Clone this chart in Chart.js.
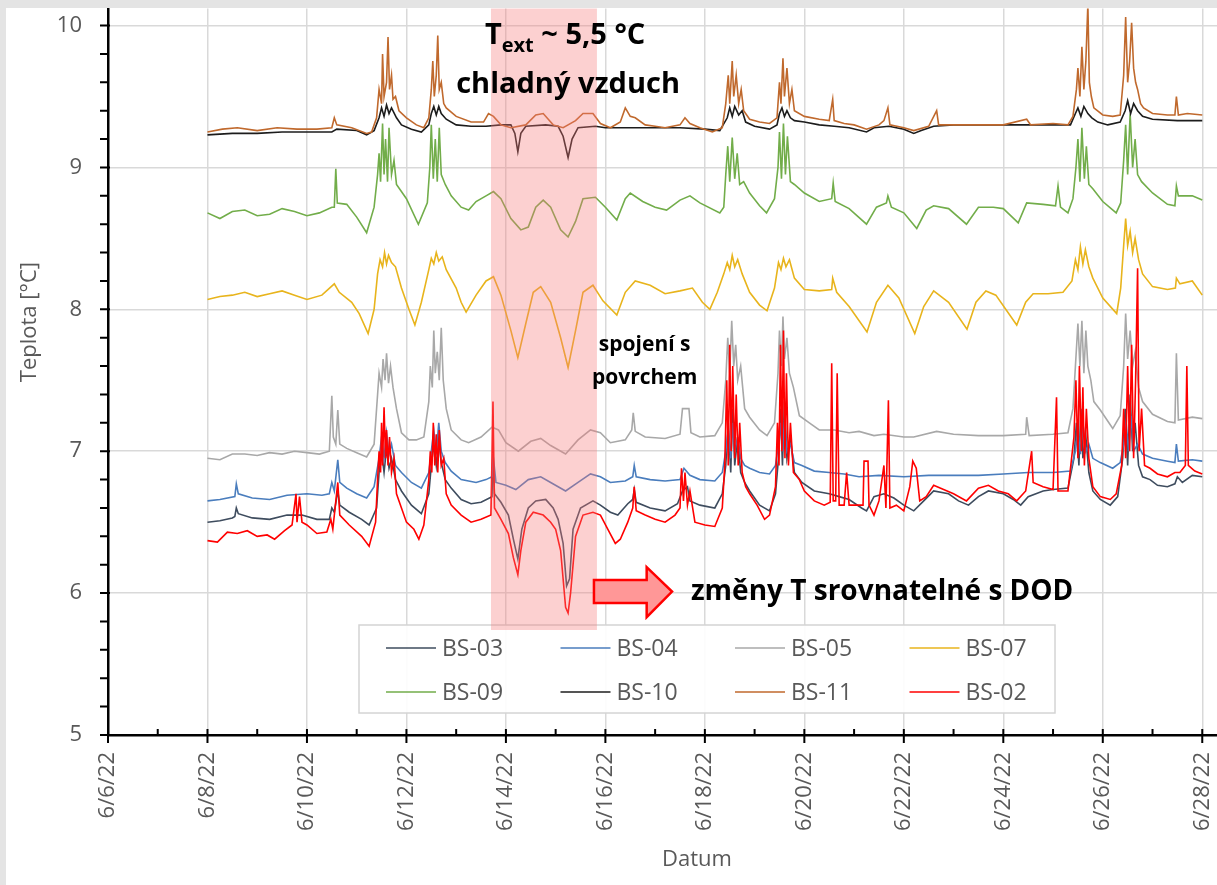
<!DOCTYPE html>
<html>
<head>
<meta charset="utf-8">
<script src="https://cdn.jsdelivr.net/npm/chart.js@4.4.1/dist/chart.umd.min.js"></script>
<style>
  html, body { margin: 0; padding: 0; }
  body { width: 1217px; height: 885px; overflow: hidden; background: #e4e4e4; position: relative; }
  #wrap { position: absolute; left: 6px; top: 8px; width: 1246px; height: 877px; background: #fff; }
</style>
</head>
<body>
<div id="wrap"><canvas id="chart"></canvas></div>
<script>
// osa x = den v červnu 2022, osa y = teplota [°C]
const xTickDays = [6, 8, 10, 12, 14, 16, 18, 20, 22, 24, 26, 28];
const yTickValues = [5, 6, 7, 8, 9, 10];
const seriesNames = ['BS-03', 'BS-04', 'BS-05', 'BS-07', 'BS-09', 'BS-10', 'BS-11', 'BS-02'];

const bs03 = [[8.0,6.50],[8.25,6.51],[8.5,6.53],[8.55,6.54],[8.58,6.60],[8.62,6.56],[8.9,6.53],[9.25,6.52],[9.6,6.55],[9.9,6.55],[10.2,6.52],[10.45,6.52],[10.5,6.60],[10.55,6.57],[10.62,6.72],[10.66,6.62],[10.85,6.57],[11.1,6.52],[11.25,6.48],[11.4,6.6],
  [11.45,6.85],[11.5,7.0],[11.55,6.85],[11.6,7.02],[11.65,6.88],[11.7,6.95],[11.78,6.8],
  [11.9,6.72],[12.1,6.62],[12.3,6.56],[12.45,6.7],
  [12.5,6.9],[12.55,7.05],[12.6,6.9],[12.65,7.08],[12.7,6.92],[12.78,6.8],
  [12.9,6.74],[13.1,6.66],[13.3,6.63],[13.5,6.64],[13.72,6.68],[13.74,6.95],[13.77,6.7],[13.9,6.64],[14.05,6.55],[14.15,6.38],[14.24,6.24],[14.32,6.45],[14.45,6.6],[14.6,6.65],[14.8,6.66],[14.95,6.6],[15.05,6.52],[15.15,6.35],[15.22,6.05],[15.28,6.1],[15.35,6.45],[15.5,6.6],[15.75,6.65],[15.9,6.62],[16.1,6.57],[16.25,6.55],[16.45,6.63],[16.55,6.66],[16.58,6.73],[16.62,6.64],[16.9,6.6],[17.2,6.58],[17.45,6.63],[17.55,6.72],[17.65,6.75],[17.7,6.65],[17.9,6.62],[18.2,6.60],[18.35,6.7],
  [18.42,6.9],[18.47,7.2],[18.52,6.85],[18.56,7.3],[18.6,6.9],[18.66,7.1],[18.72,6.85],[18.8,6.78],
  [18.9,6.72],[19.1,6.62],[19.3,6.58],[19.42,6.7],
  [19.48,6.95],[19.52,7.3],[19.56,6.9],[19.6,7.35],[19.65,6.95],[19.72,7.1],[19.8,6.85],
  [19.95,6.78],[20.2,6.72],[20.5,6.70],[20.7,6.68],[20.9,6.66],[21.15,6.60],[21.25,6.58],[21.4,6.68],[21.6,6.70],[21.8,6.67],[22.0,6.62],[22.2,6.58],[22.4,6.65],[22.6,6.72],[22.9,6.70],[23.1,6.65],[23.3,6.62],[23.5,6.68],[23.7,6.72],[24.0,6.70],[24.2,6.66],[24.35,6.62],[24.5,6.68],[24.8,6.72],[25.0,6.73],[25.3,6.74],
  [25.42,6.95],[25.47,7.2],[25.52,6.9],[25.56,7.3],[25.6,6.95],[25.66,7.1],[25.72,6.85],[25.8,6.72],
  [25.95,6.66],[26.15,6.62],[26.3,6.68],
  [26.4,6.95],[26.45,7.3],[26.5,6.9],[26.55,7.4],[26.6,7.0],[26.65,7.2],[26.72,6.9],[26.8,6.82],
  [26.95,6.80],[27.1,6.76],[27.3,6.75],[27.45,6.77],[27.5,6.82],[27.6,6.78],[27.8,6.83],[28.0,6.82]];

const bs04 = [[8.0,6.65],[8.25,6.66],[8.55,6.68],[8.58,6.77],[8.62,6.70],[8.9,6.67],[9.25,6.66],[9.6,6.69],[10.0,6.70],[10.3,6.69],[10.45,6.70],[10.5,6.78],[10.55,6.72],[10.62,6.94],[10.66,6.78],[10.8,6.74],[11.0,6.70],[11.2,6.67],[11.35,6.75],
  [11.45,6.95],[11.5,7.1],[11.55,6.95],[11.6,7.13],[11.65,6.98],[11.7,7.05],[11.78,6.9],
  [11.9,6.85],[12.1,6.78],[12.3,6.74],[12.45,6.85],
  [12.5,7.0],[12.55,7.15],[12.6,6.98],[12.65,7.2],[12.7,7.0],[12.78,6.92],
  [12.9,6.86],[13.1,6.80],[13.4,6.78],[13.6,6.80],[13.72,6.82],[13.74,6.98],[13.8,6.78],[14.0,6.76],[14.2,6.73],[14.45,6.80],[14.7,6.82],[14.9,6.78],[15.2,6.72],[15.45,6.78],[15.7,6.84],[15.9,6.82],[16.1,6.78],[16.4,6.79],[16.55,6.82],[16.58,6.90],[16.62,6.82],[16.9,6.80],[17.2,6.79],[17.5,6.80],[17.58,6.88],[17.7,6.83],[17.9,6.80],[18.2,6.79],[18.35,6.85],
  [18.42,7.0],[18.47,7.15],[18.52,6.95],[18.56,7.2],[18.6,7.0],[18.66,7.1],[18.72,6.95],[18.8,6.9],
  [18.9,6.88],[19.1,6.85],[19.3,6.84],[19.42,6.9],
  [19.48,7.05],[19.52,7.2],[19.56,7.0],[19.6,7.22],[19.65,7.0],[19.72,7.05],[19.8,6.92],
  [19.95,6.90],[20.2,6.86],[20.5,6.85],[20.8,6.84],[21.1,6.82],[21.5,6.83],[22.0,6.82],[22.5,6.83],[23.0,6.83],[23.5,6.83],[24.0,6.84],[24.5,6.85],[25.0,6.85],[25.35,6.86],
  [25.45,7.0],[25.5,7.15],[25.55,6.98],[25.6,7.2],[25.66,7.0],[25.72,7.05],[25.8,6.95],
  [25.95,6.92],[26.2,6.88],[26.35,6.92],
  [26.42,7.05],[26.47,7.2],[26.52,7.0],[26.57,7.25],[26.62,7.0],[26.7,7.05],[26.8,6.98],
  [27.0,6.95],[27.3,6.93],[27.45,6.92],[27.48,7.05],[27.52,6.93],[27.8,6.94],[28.0,6.93]];

const bs05 = [[8.0,6.95],[8.25,6.94],[8.5,6.98],[8.75,6.98],[9.0,6.97],[9.25,6.99],[9.5,6.98],[9.75,7.00],[10.0,6.99],[10.25,6.98],[10.45,7.0],[10.5,7.39],[10.53,7.1],[10.58,7.05],[10.62,7.29],[10.66,7.05],[10.8,7.02],[11.0,6.99],[11.2,6.96],[11.35,7.05],[11.42,7.4],
  [11.45,7.55],[11.5,7.45],[11.53,7.65],[11.57,7.5],[11.6,7.69],[11.64,7.48],[11.68,7.6],[11.73,7.45],[11.8,7.3],
  [11.9,7.13],[12.05,7.08],[12.2,7.08],[12.35,7.1],[12.45,7.35],
  [12.48,7.6],[12.52,7.45],[12.55,7.85],[12.58,7.55],[12.62,7.7],[12.66,7.5],[12.7,7.87],[12.74,7.5],[12.8,7.3],
  [12.9,7.15],[13.1,7.08],[13.25,7.06],[13.5,7.10],[13.72,7.17],[13.85,7.15],[14.0,7.06],[14.25,7.0],[14.5,7.07],[14.7,7.09],[14.9,7.04],[15.2,6.98],[15.45,7.08],[15.7,7.15],[15.9,7.13],[16.1,7.06],[16.4,7.08],[16.53,7.15],[16.56,7.27],[16.6,7.14],[16.8,7.10],[17.2,7.09],[17.5,7.12],[17.55,7.30],[17.68,7.30],[17.72,7.13],[17.9,7.10],[18.2,7.11],[18.35,7.2],
  [18.42,7.5],[18.46,7.8],[18.5,7.55],[18.54,7.92],[18.58,7.6],[18.62,7.75],[18.66,7.5],[18.72,7.6],[18.8,7.3],
  [18.9,7.24],[19.1,7.15],[19.25,7.11],[19.4,7.2],
  [19.47,7.55],[19.5,7.85],[19.54,7.6],[19.57,7.95],[19.6,7.65],[19.65,7.8],[19.7,7.55],[19.78,7.45],
  [19.9,7.25],[20.1,7.2],[20.3,7.15],[20.6,7.15],[20.9,7.13],[21.1,7.14],[21.4,7.11],[21.6,7.12],[22.0,7.10],[22.2,7.10],[22.66,7.14],[23.0,7.12],[23.5,7.11],[24.0,7.11],[24.45,7.12],[24.47,7.24],[24.52,7.11],[25.0,7.12],[25.3,7.13],[25.4,7.3],
  [25.45,7.6],[25.5,7.9],[25.54,7.6],[25.58,7.92],[25.62,7.55],[25.66,7.85],[25.7,7.6],[25.76,7.5],[25.82,7.35],
  [25.95,7.29],[26.2,7.16],[26.35,7.25],
  [26.42,7.6],[26.46,7.97],[26.5,7.65],[26.55,7.85],[26.6,7.6],[26.65,7.7],[26.72,7.45],[26.8,7.35],
  [27.0,7.26],[27.3,7.21],[27.45,7.20],[27.48,7.69],[27.52,7.22],[27.8,7.24],[28.0,7.23]];

const bs07 = [[8.0,8.07],[8.25,8.09],[8.5,8.10],[8.75,8.12],[9.0,8.09],[9.25,8.11],[9.5,8.13],[9.75,8.10],[10.0,8.07],[10.3,8.10],[10.55,8.18],[10.65,8.12],[10.9,8.05],[11.05,7.97],[11.23,7.83],[11.35,8.0],[11.42,8.25],
  [11.47,8.35],[11.52,8.30],[11.56,8.40],[11.6,8.32],[11.64,8.38],[11.7,8.33],[11.78,8.3],
  [11.9,8.15],[12.05,8.0],[12.17,7.89],[12.3,8.05],[12.45,8.28],
  [12.5,8.36],[12.55,8.32],[12.6,8.40],[12.65,8.34],[12.72,8.37],[12.8,8.28],
  [13.0,8.15],[13.1,8.05],[13.2,7.98],[13.4,8.10],[13.6,8.20],[13.75,8.23],[13.9,8.10],[14.1,7.85],[14.24,7.66],[14.4,7.9],[14.55,8.12],[14.7,8.16],[14.9,8.05],[15.1,7.80],[15.25,7.59],[15.4,7.85],[15.55,8.12],[15.75,8.17],[15.95,8.06],[16.23,7.96],[16.4,8.12],[16.6,8.20],[16.9,8.17],[17.2,8.11],[17.5,8.13],[17.75,8.15],[17.95,8.05],[18.1,8.0],[18.25,8.12],[18.38,8.25],
  [18.45,8.33],[18.5,8.28],[18.55,8.38],[18.6,8.30],[18.66,8.35],[18.75,8.25],
  [18.9,8.12],[19.1,8.03],[19.25,7.99],[19.4,8.15],
  [19.48,8.33],[19.53,8.28],[19.58,8.36],[19.63,8.30],[19.7,8.35],[19.8,8.22],
  [20.0,8.14],[20.3,8.13],[20.55,8.14],[20.57,8.22],[20.65,8.12],[20.9,8.02],[21.26,7.84],[21.45,8.05],[21.68,8.17],[21.9,8.08],[22.22,7.83],[22.4,8.02],[22.6,8.13],[22.9,8.05],[23.27,7.86],[23.45,8.05],[23.65,8.13],[23.85,8.10],[24.27,7.89],[24.45,8.05],[24.6,8.11],[24.9,8.11],[25.2,8.12],[25.38,8.2],
  [25.45,8.35],[25.5,8.28],[25.55,8.44],[25.6,8.32],[25.65,8.42],[25.72,8.3],[25.8,8.22],
  [26.0,8.08],[26.28,7.97],[26.36,8.15],
  [26.42,8.45],[26.46,8.64],[26.5,8.45],[26.55,8.55],[26.6,8.40],[26.65,8.5],[26.72,8.35],[26.8,8.25],
  [27.0,8.16],[27.3,8.14],[27.46,8.15],[27.48,8.22],[27.55,8.18],[27.8,8.20],[28.0,8.10]];

const bs09 = [[8.0,8.68],[8.25,8.64],[8.5,8.69],[8.75,8.70],[9.0,8.66],[9.25,8.67],[9.5,8.71],[9.75,8.69],[10.0,8.66],[10.25,8.68],[10.5,8.72],[10.55,8.72],[10.58,8.99],[10.61,8.75],[10.8,8.74],[11.0,8.65],[11.2,8.54],[11.35,8.72],[11.42,8.95],
  [11.45,9.1],[11.48,8.9],[11.52,9.31],[11.55,8.95],[11.58,9.2],[11.62,8.9],[11.65,9.28],[11.7,8.95],[11.75,9.05],[11.8,8.88],
  [12.0,8.78],[12.24,8.60],[12.42,8.75],
  [12.47,9.0],[12.5,9.3],[12.54,8.92],[12.58,9.2],[12.62,8.9],[12.66,9.28],[12.7,8.95],[12.78,8.88],
  [12.9,8.80],[13.1,8.72],[13.25,8.70],[13.4,8.76],[13.6,8.80],[13.75,8.83],[13.9,8.78],[14.1,8.64],[14.3,8.56],[14.45,8.58],[14.6,8.72],[14.75,8.77],[14.9,8.72],[15.1,8.56],[15.25,8.51],[15.4,8.62],[15.55,8.78],[15.8,8.79],[16.0,8.72],[16.23,8.63],[16.4,8.78],[16.5,8.82],[16.75,8.76],[17.0,8.72],[17.23,8.70],[17.5,8.77],[17.7,8.80],[17.9,8.75],[18.3,8.68],[18.38,8.72],
  [18.42,8.95],[18.46,9.15],[18.5,8.9],[18.55,9.21],[18.6,8.92],[18.65,9.1],[18.7,8.88],[18.78,8.9],
  [18.9,8.82],[19.1,8.73],[19.24,8.68],[19.4,8.78],
  [19.47,9.0],[19.5,9.25],[19.54,8.92],[19.58,9.31],[19.62,8.95],[19.66,9.22],[19.72,8.9],[19.8,8.88],
  [20.0,8.82],[20.3,8.76],[20.55,8.78],[20.58,8.89],[20.62,8.76],[20.9,8.71],[21.25,8.60],[21.45,8.72],[21.65,8.75],[21.68,8.80],[21.75,8.72],[22.0,8.68],[22.26,8.57],[22.45,8.70],[22.6,8.73],[22.9,8.71],[23.26,8.60],[23.5,8.72],[23.8,8.72],[24.0,8.71],[24.3,8.61],[24.47,8.75],[24.8,8.74],[25.05,8.73],[25.1,8.87],[25.15,8.72],[25.3,8.68],[25.4,8.78],
  [25.46,9.0],[25.5,9.2],[25.54,8.9],[25.58,9.28],[25.63,8.92],[25.67,9.15],[25.72,8.88],[25.8,8.85],
  [26.0,8.76],[26.27,8.68],[26.36,8.75],
  [26.42,9.05],[26.46,9.3],[26.5,8.95],[26.55,9.38],[26.6,9.0],[26.65,9.2],[26.7,8.95],[26.78,8.9],
  [27.0,8.82],[27.3,8.74],[27.45,8.73],[27.48,8.87],[27.52,8.80],[27.8,8.80],[28.0,8.77]];

const bs10 = [[8.0,9.23],[8.5,9.24],[9.0,9.24],[9.5,9.25],[10.0,9.25],[10.5,9.25],[10.6,9.27],[11.0,9.26],[11.2,9.23],[11.35,9.26],
  [11.45,9.35],[11.5,9.42],[11.55,9.36],[11.6,9.44],[11.65,9.38],[11.7,9.42],[11.8,9.35],
  [11.9,9.30],[12.1,9.27],[12.3,9.25],[12.45,9.30],
  [12.5,9.38],[12.55,9.43],[12.6,9.37],[12.65,9.43],[12.7,9.38],[12.8,9.34],
  [13.0,9.30],[13.3,9.29],[13.6,9.29],[13.9,9.30],[14.1,9.30],[14.18,9.24],[14.24,9.11],[14.3,9.24],[14.4,9.29],[14.8,9.30],[15.05,9.29],[15.15,9.22],[15.25,9.07],[15.33,9.2],[15.45,9.28],[15.8,9.29],[16.0,9.28],[16.5,9.28],[17.0,9.28],[17.5,9.28],[18.0,9.27],[18.3,9.26],
  [18.45,9.35],[18.5,9.42],[18.55,9.36],[18.6,9.43],[18.68,9.37],[18.75,9.40],[18.82,9.32],
  [19.0,9.29],[19.3,9.27],[19.45,9.30],
  [19.5,9.38],[19.55,9.42],[19.6,9.36],[19.65,9.40],[19.72,9.35],[19.8,9.33],
  [20.0,9.32],[20.3,9.30],[20.6,9.29],[20.9,9.28],[21.25,9.25],[21.4,9.28],[21.7,9.29],[22.0,9.27],[22.2,9.24],[22.35,9.26],[22.6,9.29],[23.0,9.30],[23.5,9.30],[24.0,9.30],[24.5,9.30],[25.0,9.30],[25.35,9.30],
  [25.45,9.38],[25.5,9.42],[25.56,9.36],[25.62,9.43],[25.7,9.38],[25.78,9.35],
  [25.9,9.32],[26.1,9.30],[26.35,9.32],
  [26.45,9.40],[26.5,9.47],[26.56,9.38],[26.62,9.45],[26.7,9.40],[26.8,9.36],
  [27.0,9.34],[27.5,9.33],[28.0,9.33]];

const bs11 = [[8.0,9.25],[8.3,9.27],[8.6,9.28],[9.0,9.26],[9.4,9.28],[9.8,9.27],[10.2,9.27],[10.5,9.28],[10.55,9.35],[10.6,9.30],[10.9,9.28],[11.2,9.24],[11.3,9.25],[11.4,9.35],
  [11.45,9.55],[11.5,9.45],[11.52,9.80],[11.55,9.5],[11.6,9.6],[11.63,9.92],[11.66,9.55],[11.7,9.65],[11.73,9.48],[11.78,9.5],[11.85,9.40],
  [12.0,9.35],[12.2,9.30],[12.35,9.28],[12.45,9.35],
  [12.5,9.55],[12.53,9.75],[12.56,9.5],[12.6,9.65],[12.63,9.93],[12.66,9.55],[12.7,9.6],[12.75,9.45],[12.8,9.42],
  [13.0,9.36],[13.3,9.32],[13.55,9.32],[13.65,9.38],[13.75,9.36],[13.9,9.30],[14.1,9.28],[14.4,9.30],[14.6,9.37],[14.75,9.38],[14.95,9.30],[15.15,9.28],[15.4,9.33],[15.55,9.38],[15.75,9.38],[15.9,9.31],[16.1,9.28],[16.3,9.32],[16.4,9.42],[16.5,9.36],[16.6,9.35],[16.8,9.30],[17.0,9.29],[17.2,9.28],[17.5,9.30],[17.6,9.35],[17.7,9.31],[17.9,9.28],[18.15,9.25],[18.35,9.28],
  [18.42,9.45],[18.47,9.65],[18.5,9.45],[18.55,9.75],[18.58,9.5],[18.63,9.65],[18.68,9.45],[18.73,9.55],[18.78,9.4],
  [18.9,9.34],[19.1,9.32],[19.3,9.31],[19.45,9.35],
  [19.5,9.6],[19.53,9.45],[19.57,9.77],[19.6,9.5],[19.65,9.7],[19.7,9.45],[19.75,9.55],[19.8,9.40],
  [20.0,9.36],[20.3,9.34],[20.5,9.33],[20.57,9.48],[20.6,9.33],[20.8,9.31],[21.0,9.30],[21.25,9.27],[21.5,9.30],[21.6,9.33],[21.68,9.42],[21.72,9.3],[22.0,9.28],[22.2,9.26],[22.5,9.29],[22.66,9.40],[22.7,9.3],[23.0,9.30],[23.5,9.30],[24.0,9.30],[24.47,9.34],[24.55,9.3],[25.0,9.31],[25.3,9.30],[25.4,9.36],
  [25.47,9.55],[25.5,9.7],[25.54,9.5],[25.58,9.85],[25.62,9.55],[25.66,9.75],[25.7,10.15],[25.73,9.6],[25.77,9.5],[25.82,9.42],
  [26.0,9.37],[26.2,9.36],[26.35,9.37],
  [26.42,9.65],[26.46,10.06],[26.5,9.6],[26.54,9.75],[26.58,10.02],[26.62,9.7],[26.66,9.6],[26.7,9.55],[26.76,9.45],[26.82,9.42],
  [27.0,9.38],[27.3,9.37],[27.45,9.37],[27.48,9.50],[27.52,9.37],[27.7,9.38],[28.0,9.37]];

const bs02 = [[8.0,6.37],[8.2,6.36],[8.4,6.43],[8.6,6.42],[8.8,6.44],[9.0,6.40],[9.2,6.41],[9.35,6.38],[9.55,6.44],[9.7,6.48],[9.78,6.7],[9.8,6.5],[9.85,6.68],[9.9,6.5],[10.0,6.48],[10.2,6.42],[10.4,6.43],[10.48,6.52],[10.52,6.45],[10.62,6.78],[10.66,6.55],[10.85,6.48],[11.1,6.40],[11.25,6.33],[11.38,6.5],
  [11.42,6.8],[11.45,7.0],[11.48,6.85],[11.5,7.2],[11.52,6.9],[11.55,7.31],[11.58,6.95],[11.6,7.15],[11.63,6.9],[11.66,7.1],[11.7,6.85],[11.75,6.95],[11.8,6.7],
  [11.9,6.60],[12.0,6.50],[12.15,6.45],[12.25,6.38],[12.35,6.48],[12.45,6.8],
  [12.48,7.0],[12.51,6.85],[12.54,7.2],[12.57,6.9],[12.6,7.12],[12.63,6.85],[12.66,7.15],[12.7,6.9],[12.75,6.95],[12.8,6.7],
  [12.9,6.62],[13.1,6.55],[13.3,6.50],[13.5,6.52],[13.7,6.55],[13.74,7.35],[13.77,6.6],[13.9,6.52],[14.05,6.42],[14.15,6.25],[14.24,6.13],[14.3,6.3],[14.4,6.5],[14.55,6.57],[14.75,6.55],[14.9,6.5],[15.0,6.45],[15.1,6.3],[15.2,5.9],[15.25,5.86],[15.3,6.0],[15.4,6.4],[15.55,6.55],[15.75,6.57],[15.9,6.55],[16.05,6.45],[16.2,6.35],[16.3,6.38],[16.45,6.5],[16.55,6.6],[16.58,6.75],[16.62,6.58],[16.8,6.55],[17.0,6.52],[17.2,6.50],[17.4,6.55],[17.5,6.6],[17.53,6.88],[17.57,6.65],[17.6,6.85],[17.65,6.62],[17.7,6.72],[17.8,6.5],[18.0,6.48],[18.2,6.47],[18.35,6.6],
  [18.4,6.9],[18.44,7.5],[18.47,6.9],[18.5,7.75],[18.53,7.0],[18.56,7.6],[18.6,6.95],[18.63,7.4],[18.67,6.9],[18.7,7.2],[18.75,6.85],[18.82,6.75],
  [18.9,6.70],[19.05,6.62],[19.2,6.52],[19.3,6.55],[19.42,6.75],
  [19.46,7.2],[19.49,6.9],[19.52,7.75],[19.55,7.0],[19.58,7.85],[19.61,6.95],[19.64,7.55],[19.68,6.9],[19.72,7.2],[19.78,6.85],
  [19.9,6.80],[20.0,6.72],[20.2,6.65],[20.4,6.62],[20.52,6.64],[20.55,7.62],[20.58,6.65],[20.63,6.65],[20.66,7.55],[20.7,6.62],[20.8,6.62],[20.85,6.85],[20.9,6.62],[21.05,6.62],[21.18,6.62],[21.2,6.93],[21.28,6.93],[21.3,6.62],[21.4,6.55],[21.5,6.65],[21.6,6.9],[21.64,6.6],[21.69,7.36],[21.72,6.6],[21.85,6.62],[22.0,6.58],[22.12,6.75],[22.18,6.93],[22.25,6.88],[22.32,6.65],[22.45,6.68],[22.6,6.76],[22.8,6.73],[23.0,6.70],[23.26,6.65],[23.5,6.74],[23.7,6.76],[23.9,6.72],[24.1,6.70],[24.27,6.65],[24.45,6.72],[24.57,7.0],[24.6,6.78],[24.8,6.75],[25.0,6.73],[25.07,7.38],[25.1,6.72],[25.3,6.72],
  [25.42,7.1],[25.46,7.5],[25.5,6.95],[25.53,7.6],[25.57,7.0],[25.6,7.45],[25.63,6.9],[25.67,7.3],[25.72,6.95],[25.8,6.75],
  [25.95,6.68],[26.15,6.66],[26.27,6.70],[26.38,6.9],
  [26.42,7.3],[26.46,6.95],[26.5,7.6],[26.54,7.0],[26.58,7.75],[26.62,6.95],[26.66,7.5],[26.7,8.29],[26.73,7.0],[26.78,7.3],[26.84,6.9],
  [26.95,6.88],[27.1,6.84],[27.3,6.82],[27.45,6.85],[27.55,6.85],[27.66,6.9],[27.69,7.6],[27.72,6.9],[27.85,6.86],[28.0,6.84]];

const seriesData = [bs03, bs04, bs05, bs07, bs09, bs10, bs11, bs02];
const seriesColors = ['#3e4c5e', '#4a7dbd', '#a8a8a8', '#e8b41c', '#72ad4a', '#1c1c1c', '#c0692d', '#ff0000'];
const drawOrder = [5, 4, 6, 7, 8, 3, 2, 1]; // nižší = navrch

const FONT = '"Open Sans", sans-serif';
const GREY = '#595959';

// popisky v grafu (poloha v jednotkách os)
const coldBand = { from: 13.70, to: 15.83, bottom: 5.74 };

const overlay = {
  id: 'overlay',
  afterDatasetsDraw(chart) {
    const { ctx, chartArea: a, scales: { x, y } } = chart;
    ctx.save();

    // legenda
    const lx = 353, ly = 617, lw = 696, lh = 88;
    ctx.fillStyle = 'rgba(255,255,255,0.92)';
    ctx.fillRect(lx, ly, lw, lh);
    ctx.strokeStyle = '#d4d4d4';
    ctx.lineWidth = 1.5;
    ctx.strokeRect(lx, ly, lw, lh);
    ctx.font = '23px ' + FONT;
    ctx.textBaseline = 'middle';
    ctx.textAlign = 'left';
    chart.data.datasets.forEach((ds, i) => {
      const col = i % 4, row = Math.floor(i / 4);
      const sx = lx + 27 + col * 174.5, sy = ly + 23 + row * 44;
      ctx.strokeStyle = ds.borderColor;
      ctx.lineWidth = 1.5;
      ctx.beginPath(); ctx.moveTo(sx, sy); ctx.lineTo(sx + 50, sy); ctx.stroke();
      ctx.fillStyle = GREY;
      ctx.fillText(ds.label, sx + 56, sy + 1);
    });

    // pásmo chladného vzduchu
    const bx0 = x.getPixelForValue(coldBand.from), bx1 = x.getPixelForValue(coldBand.to);
    const by1 = y.getPixelForValue(coldBand.bottom);
    ctx.fillStyle = 'rgba(245,120,120,0.35)';
    ctx.fillRect(bx0, a.top, bx1 - bx0, by1 - a.top);

    // texty
    ctx.fillStyle = '#000';
    ctx.textBaseline = 'alphabetic';
    const big = 'bold 29px ' + FONT, sub = 'bold 20px ' + FONT;
    ctx.font = big; const wT = ctx.measureText('T').width;
    const rest = ' ~ 5,5 °C'; const wR = ctx.measureText(rest).width;
    ctx.font = sub; const wE = ctx.measureText('ext').width;
    let tx = x.getPixelForValue(15.19) - (wT + wE + wR) / 2;
    const ty = y.getPixelForValue(9.873);
    ctx.font = big; ctx.textAlign = 'left'; ctx.fillText('T', tx, ty); tx += wT;
    ctx.font = sub; ctx.fillText('ext', tx, ty + 8); tx += wE;
    ctx.font = big; ctx.fillText(rest, tx, ty);
    ctx.textAlign = 'center';
    ctx.fillText('chladný vzduch', x.getPixelForValue(15.25), y.getPixelForValue(9.528));

    ctx.font = 'bold 21px ' + FONT;
    ctx.textBaseline = 'middle';
    ctx.fillText('spojení s', x.getPixelForValue(16.79), y.getPixelForValue(7.746));
    ctx.fillText('povrchem', x.getPixelForValue(16.79), y.getPixelForValue(7.514));

    // šipka
    const ax0 = x.getPixelForValue(15.77), ax1 = x.getPixelForValue(16.83), ax2 = x.getPixelForValue(17.34);
    const bt = y.getPixelForValue(6.092), bb = y.getPixelForValue(5.93);
    const ht = y.getPixelForValue(6.183), hb = y.getPixelForValue(5.831), tipY = (bt + bb) / 2;
    ctx.beginPath();
    ctx.moveTo(ax0, bt); ctx.lineTo(ax1, bt); ctx.lineTo(ax1, ht); ctx.lineTo(ax2, tipY);
    ctx.lineTo(ax1, hb); ctx.lineTo(ax1, bb); ctx.lineTo(ax0, bb); ctx.closePath();
    ctx.fillStyle = '#ff9797'; ctx.fill();
    ctx.strokeStyle = '#ff0000'; ctx.lineWidth = 2.5; ctx.stroke();

    ctx.fillStyle = '#000';
    ctx.font = 'bold 28px ' + FONT;
    ctx.textAlign = 'left';
    ctx.fillText('změny T srovnatelné s DOD', x.getPixelForValue(17.72), y.getPixelForValue(6.007));
    ctx.restore();
  },
  afterDraw(chart) {
    const { ctx, chartArea: a, scales: { x, y } } = chart;
    ctx.save();
    // vedlejší a hlavní značky na osách
    ctx.strokeStyle = '#000';
    ctx.lineWidth = 2;
    ctx.beginPath();
    for (let d = 6; d <= 29; d++) {
      const px = x.getPixelForValue(d);
      ctx.moveTo(px, a.bottom - 6);
      ctx.lineTo(px, a.bottom + (d % 2 === 0 ? 8 : 0));
    }
    for (let i = 0; i <= 25; i++) {
      const py = y.getPixelForValue(5 + i * 0.2);
      ctx.moveTo(a.left - 8, py);
      ctx.lineTo(a.left + (i % 5 === 0 ? 2 : 0), py);
    }
    ctx.stroke();
    // názvy os
    ctx.fillStyle = GREY;
    ctx.font = '22px ' + FONT;
    ctx.textAlign = 'center';
    ctx.textBaseline = 'middle';
    ctx.fillText('Datum', x.getPixelForValue(17.84), a.bottom + 125);
    ctx.translate(24, y.getPixelForValue(7.91));
    ctx.rotate(-Math.PI / 2);
    ctx.fillText('Teplota [°C]', 0, 0);
    ctx.restore();
  }
};

new Chart(document.getElementById('chart'), {
  type: 'line',
  data: {
    datasets: seriesNames.map((name, i) => ({
      label: name,
      data: seriesData[i],
      borderColor: seriesColors[i],
      backgroundColor: seriesColors[i],
      borderWidth: 1.6,
      pointRadius: 0,
      tension: 0,
      order: drawOrder[i]
    }))
  },
  options: {
    responsive: true,
    maintainAspectRatio: false,
    animation: false,
    devicePixelRatio: 1,
    layout: { padding: 0 },
    plugins: { legend: { display: false }, tooltip: { enabled: false } },
    scales: {
      x: {
        type: 'linear',
        min: 6,
        max: 29,
        afterBuildTicks: s => { s.ticks = xTickDays.map(v => ({ value: v })); },
        afterFit: s => { s.height = 150; },
        grid: { color: '#d9d9d9', lineWidth: 1.5, drawTicks: false },
        border: { color: '#000', width: 2.5 },
        ticks: {
          autoSkip: false, minRotation: 90, maxRotation: 90, padding: 17,
          color: GREY, font: { family: FONT, size: 22 },
          callback: v => '6/' + v + '/22'
        }
      },
      y: {
        min: 5,
        max: 10.12,
        afterBuildTicks: s => { s.ticks = yTickValues.map(v => ({ value: v })); },
        afterFit: s => { s.width = 102; },
        grid: { color: '#d9d9d9', lineWidth: 1.5, drawTicks: true, tickLength: 26, tickColor: 'rgba(0,0,0,0)' },
        border: { color: '#000', width: 2.5 },
        ticks: { padding: 0, color: GREY, font: { family: FONT, size: 22, lineHeight: 0.05 } }
      }
    }
  },
  plugins: [overlay]
});
</script>
</body>
</html>
